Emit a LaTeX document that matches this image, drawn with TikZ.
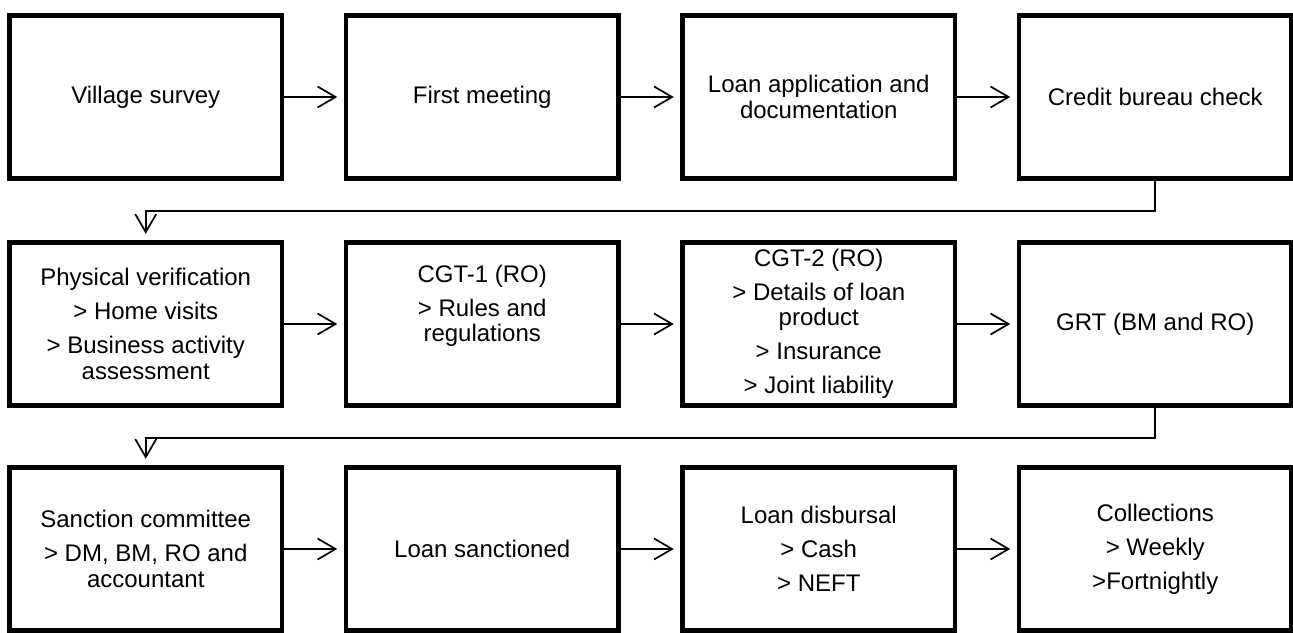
\documentclass[tikz,border=0pt]{standalone}
\usepackage{fontspec}
\setmainfont{Liberation Sans}
\usetikzlibrary{arrows.meta}

\begin{document}
\begin{tikzpicture}[x=1pt,y=-1pt,
  stage/.style={draw,line width=4.5pt,rectangle,minimum width=272.5pt,minimum height=163pt,
    inner sep=0pt,align=center,font=\fontsize{24}{25.5}\selectfont},
  flow/.style={-{Straight Barb[length=18pt,width=21pt]},line width=1.7pt,shorten >=6.5pt}]
  \useasboundingbox (0,0) rectangle (1293,632);
  % first row
  \node[stage] (survey) at (145.75,97) {Village survey};
  \node[stage] (meeting) at (482.25,97) {First meeting};
  \node[stage] (application) at (818.75,97) {Loan application and\\documentation};
  \node[stage] (bureau) at (1155.25,97) {Credit bureau check};
  % second row
  \node[stage] (verification) at (145.75,324)
    {Physical verification\\[8.5pt]> Home visits\\[8.5pt]> Business activity\\assessment};
  \node[stage] (cgtone) at (482.25,324) {CGT-1 (RO)\\[8.5pt]> Rules and\\regulations\\[8.5pt]\strut};
  \node[stage] (cgttwo) at (818.75,324)
    {CGT-2 (RO)\\[8.5pt]> Details of loan\\product\\[8.5pt]> Insurance\\[8.5pt]> Joint liability};
  \node[stage] (grt) at (1155.25,324) {GRT (BM and RO)};
  % third row
  \node[stage] (committee) at (145.75,549) {Sanction committee\\[8.5pt]> DM, BM, RO and\\accountant};
  \node[stage] (sanctioned) at (482.25,549) {Loan sanctioned};
  \node[stage] (disbursal) at (818.75,549) {Loan disbursal\\[8.5pt]> Cash\\[8.5pt]> NEFT};
  \node[stage] (collections) at (1155.25,549) {Collections\\[8.5pt]> Weekly\\[8.5pt]>Fortnightly};
  % connectors
  \draw[flow] (survey) -- (meeting);
  \draw[flow] (meeting) -- (application);
  \draw[flow] (application) -- (bureau);
  \draw[flow] (bureau.south) -- ++(0,30) -| (verification.north);
  \draw[flow] (verification) -- (cgtone);
  \draw[flow] (cgtone) -- (cgttwo);
  \draw[flow] (cgttwo) -- (grt);
  \draw[flow] (grt.south) -- ++(0,30) -| (committee.north);
  \draw[flow] (committee) -- (sanctioned);
  \draw[flow] (sanctioned) -- (disbursal);
  \draw[flow] (disbursal) -- (collections);
\end{tikzpicture}
\end{document}
